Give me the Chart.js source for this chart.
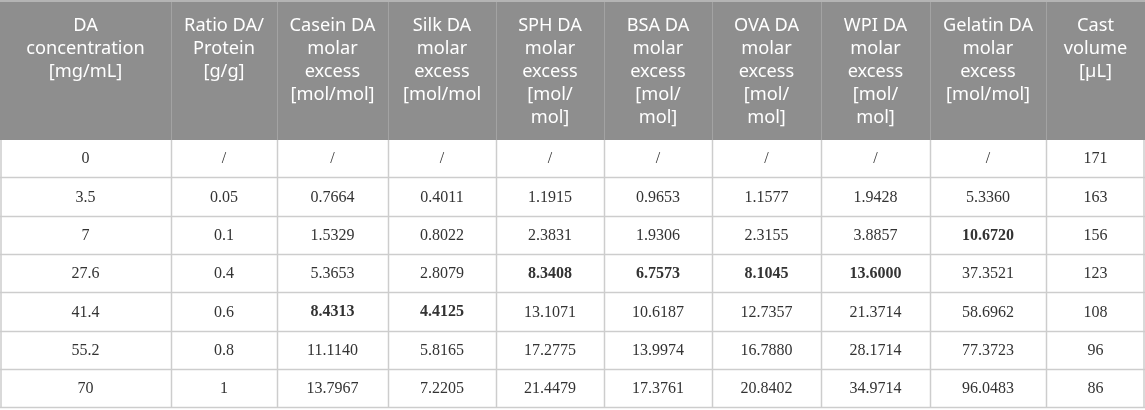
<!DOCTYPE html>
<html>
<head>
<meta charset="utf-8">
<script src="https://cdn.jsdelivr.net/npm/chart.js@4.4.1/dist/chart.umd.min.js"></script>
<style>
  html, body { margin: 0; padding: 0; background: #fff; }
  #wrap { position: relative; width: 1145px; height: 410px; }
</style>
</head>
<body>
<div id="wrap"><canvas id="tbl"></canvas></div>
<script>
// ---- 표 데이터 ----
const headerLines = [
  ['DA', 'concentration', '[mg/mL]'],
  ['Ratio DA/', 'Protein', '[g/g]'],
  ['Casein DA', 'molar', 'excess', '[mol/mol]'],
  ['Silk DA', 'molar', 'excess', '[mol/mol'],
  ['SPH DA', 'molar', 'excess', '[mol/', 'mol]'],
  ['BSA DA', 'molar', 'excess', '[mol/', 'mol]'],
  ['OVA DA', 'molar', 'excess', '[mol/', 'mol]'],
  ['WPI DA', 'molar', 'excess', '[mol/', 'mol]'],
  ['Gelatin DA', 'molar', 'excess', '[mol/mol]'],
  ['Cast', 'volume', '[µL]']
];

const concentration = ['0', '3.5', '7', '27.6', '41.4', '55.2', '70'];
const ratio   = ['/', '0.05', '0.1', '0.4', '0.6', '0.8', '1'];
const casein  = ['/', '0.7664', '1.5329', '5.3653', '8.4313', '11.1140', '13.7967'];
const silk    = ['/', '0.4011', '0.8022', '2.8079', '4.4125', '5.8165', '7.2205'];
const sph     = ['/', '1.1915', '2.3831', '8.3408', '13.1071', '17.2775', '21.4479'];
const bsa     = ['/', '0.9653', '1.9306', '6.7573', '10.6187', '13.9974', '17.3761'];
const ova     = ['/', '1.1577', '2.3155', '8.1045', '12.7357', '16.7880', '20.8402'];
const wpi     = ['/', '1.9428', '3.8857', '13.6000', '21.3714', '28.1714', '34.9714'];
const gelatin = ['/', '5.3360', '10.6720', '37.3521', '58.6962', '77.3723', '96.0483'];
const castVolume = ['171', '163', '156', '123', '108', '96', '86'];

// 굵게 표시된 셀: 열 인덱스 -> 행 인덱스
const boldRowByCol = { 2: 4, 3: 4, 4: 3, 5: 3, 6: 3, 7: 3, 8: 2 };

const columns = [concentration, ratio, casein, silk, sph, bsa, ova, wpi, gelatin, castVolume];

// ---- 레이아웃 (스케일 단위) ----
const colWidths = [171, 106, 111, 108, 108, 108, 109, 109, 116, 99];
const headerHeight = 140;
const rowHeight = 38.3;
const totalW = colWidths.reduce((a, b) => a + b, 0);

const colEdges = [0];
colWidths.forEach(w => colEdges.push(colEdges[colEdges.length - 1] + w));
const rowEdges = [0, headerHeight];
concentration.forEach(() => rowEdges.push(rowEdges[rowEdges.length - 1] + rowHeight));

const tablePlugin = {
  id: 'tableDraw',
  afterDraw(chart) {
    const ctx = chart.ctx;
    const xs = chart.scales.x, ys = chart.scales.y;
    const px = v => xs.getPixelForValue(v);
    const py = v => ys.getPixelForValue(v);
    const bottom = rowEdges[rowEdges.length - 1];

    ctx.save();
    // 헤더 배경
    ctx.fillStyle = '#8e8e8e';
    ctx.fillRect(px(0), py(0), px(totalW) - px(0), py(headerHeight) - py(0));

    // 헤더 구분선
    ctx.strokeStyle = '#a3a3a3';
    ctx.lineWidth = 1;
    for (let i = 1; i < colEdges.length - 1; i++) {
      const x = Math.round(px(colEdges[i])) + 0.5;
      ctx.beginPath(); ctx.moveTo(x, py(0)); ctx.lineTo(x, py(headerHeight)); ctx.stroke();
    }
    ctx.strokeStyle = '#b4b4b4';
    ctx.lineWidth = 2;
    ctx.beginPath(); ctx.moveTo(px(0), py(0) + 1); ctx.lineTo(px(totalW), py(0) + 1); ctx.stroke();

    // 본문 격자
    ctx.strokeStyle = '#cdcdcd';
    ctx.lineWidth = 1.5;
    for (let r = 2; r < rowEdges.length; r++) {
      const y = Math.round(py(rowEdges[r])) - 0.5;
      ctx.beginPath(); ctx.moveTo(px(0), y); ctx.lineTo(px(totalW), y); ctx.stroke();
    }
    for (let i = 0; i < colEdges.length; i++) {
      let x = Math.round(px(colEdges[i])) + 0.5;
      if (i === 0) x = px(0) + 1;
      if (i === colEdges.length - 1) x = px(totalW) - 1;
      ctx.beginPath(); ctx.moveTo(x, py(headerHeight)); ctx.lineTo(x, py(bottom)); ctx.stroke();
    }

    // 헤더 텍스트
    ctx.fillStyle = '#ffffff';
    ctx.font = '18.2px "Noto Sans", "Open Sans", sans-serif';
    ctx.textAlign = 'center';
    ctx.textBaseline = 'middle';
    headerLines.forEach((lines, c) => {
      const cx = px((colEdges[c] + colEdges[c + 1]) / 2);
      lines.forEach((t, k) => ctx.fillText(t, cx, py(26 + k * 23)));
    });

    // 본문 텍스트
    ctx.fillStyle = '#333333';
    columns.forEach((vals, c) => {
      const cx = px((colEdges[c] + colEdges[c + 1]) / 2);
      vals.forEach((t, r) => {
        const bold = boldRowByCol[c] === r;
        ctx.font = (bold ? 'bold ' : '') + '16px "Liberation Serif", "DejaVu Serif", serif';
        const cy = py((rowEdges[r + 1] + rowEdges[r + 2]) / 2);
        ctx.fillText(t, cx, cy);
      });
    });
    ctx.restore();
  }
};

new Chart(document.getElementById('tbl'), {
  type: 'scatter',
  data: { datasets: [{ data: [] }] },
  options: {
    responsive: true,
    maintainAspectRatio: false,
    animation: false,
    events: [],
    layout: { padding: 0 },
    plugins: { legend: { display: false }, tooltip: { enabled: false } },
    scales: {
      x: { type: 'linear', min: 0, max: totalW, display: false },
      y: { type: 'linear', min: 0, max: 410, reverse: true, display: false }
    }
  },
  plugins: [tablePlugin]
});
</script>
</body>
</html>
